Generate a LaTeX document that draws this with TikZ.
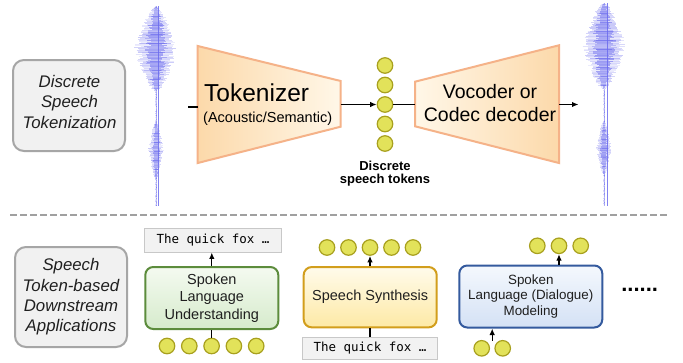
\documentclass[tikz,border=0pt]{standalone}
\usepackage{fontspec}
\setmainfont{Liberation Sans}
\setmonofont{DejaVu Sans Mono}
\usetikzlibrary{arrows.meta}

\definecolor{waveblue}{RGB}{108,108,238}
\definecolor{tapeborder}{RGB}{245,178,136}
\definecolor{tapedark}{RGB}{252,217,170}
\definecolor{tapelight}{RGB}{255,247,232}
\definecolor{panelgray}{RGB}{166,166,166}
\definecolor{panelfill}{RGB}{241,241,241}
\definecolor{tokfill}{RGB}{226,226,90}
\definecolor{tokline}{RGB}{168,160,30}
\definecolor{slugreen}{RGB}{92,140,60}
\definecolor{slutop}{RGB}{244,250,240}
\definecolor{slubot}{RGB}{214,235,204}
\definecolor{ssgold}{RGB}{210,158,28}
\definecolor{sstop}{RGB}{255,251,235}
\definecolor{ssbot}{RGB}{253,233,165}
\definecolor{slmblue}{RGB}{52,90,158}
\definecolor{slmtop}{RGB}{244,248,253}
\definecolor{slmbot}{RGB}{212,225,245}
\definecolor{textboxfill}{RGB}{242,242,242}
\definecolor{textboxline}{RGB}{200,200,200}
\definecolor{dashgray}{RGB}{160,160,160}

% speech waveform: horizontal strokes around a vertical spine
% #1 spine x, #2 top, #3 bottom, #4 blob shift, #5/#6/#7 upper blob centre,
% half-height, half-width, #8/#9 lower blob centre, half-height
\newcommand\speechwave[9]{%
  \pgfmathtruncatemacro\nlines{(#3-#2)/0.9}
  \foreach \k in {0,...,\nlines} {
    \pgfmathsetmacro\ya{#2+0.9*\k}
    \pgfmathsetmacro\wu{#7*pow(max(0.0001,1-abs(\ya-#5)/#6),0.6)}
    \pgfmathsetmacro\wl{7.5*pow(max(0.0001,1-abs(\ya-#8)/#9),0.6)}
    \pgfmathsetmacro\ww{\wu+\wl}
    \pgfmathsetmacro\xl{#1+#4-\ww*(0.65+0.35*rnd)-0.4}
    \pgfmathsetmacro\xr{#1+#4+\ww*(0.65+0.35*rnd)+0.4}
    \pgfmathsetmacro\op{0.12+0.25*rnd}
    \draw[wave, opacity=\op] (\xl,\ya) -- (\xr,\ya);
    \pgfmathsetmacro\xli{#1+#4-\ww*(0.25+0.35*rnd)}
    \pgfmathsetmacro\xri{#1+#4+\ww*(0.25+0.35*rnd)}
    \pgfmathsetmacro\opi{0.3+0.3*rnd}
    \draw[wave, opacity=\opi] (\xli,\ya) -- (\xri,\ya);
  }%
  \draw[wave, line width=0.9pt, opacity=0.85] (#1,#2) -- (#1,#3);
}

\begin{document}
\begin{tikzpicture}[x=1pt, y=-1pt,
  >={Latex[length=6.5pt,width=5.5pt]},
  wave/.style={waveblue, line width=0.7pt},
  panel/.style={draw=panelgray, line width=2pt, fill=panelfill,
    rounded corners=11pt, inner sep=0pt},
  paneltext/.style={align=center, inner sep=0pt, text=black!88,
    font=\itshape\fontsize{16.8}{20.4}\selectfont},
  token/.style={circle, draw=tokline, fill=tokfill, line width=1.2pt,
    minimum size=15.5pt, inner sep=0pt},
  taskbox/.style={rounded corners=8pt, line width=2pt, align=center,
    inner sep=0pt, text=black!88},
  sample/.style={draw=textboxline, fill=textboxfill, line width=0.8pt,
    font=\ttfamily\fontsize{12.5}{14}\selectfont, inner sep=0pt},
  link/.style={line width=1.3pt, black},
  separator/.style={dashgray, line width=2pt, dash pattern=on 6.5pt off 3.5pt}]

\fill[white] (0,0) rectangle (683,362);
\useasboundingbox (0,0) rectangle (683,362);
\pgfmathsetseed{11}

% ---------- upper row: tokenization pipeline ----------
\node[panel, minimum width=112pt, minimum height=91pt] (tokpanel) at (69,105.5) {};
\node[paneltext] (tokpaneltext) at (69.5,101.9) {Discrete\\Speech\\Tokenization};

\speechwave{158}{6}{206}{-2}{49}{42}{22}{150}{28}
\speechwave{607}{3}{206}{-3}{46}{43}{22}{148}{26}

% tokenizer (encoder) funnel
\shade[left color=tapedark, right color=tapelight, draw=tapeborder,
  line width=2pt, line join=miter]
  (197.7,46) -- (340.7,81) -- (340.7,126.7) -- (197.7,163) -- cycle;
\coordinate (tokin) at (197.7,107);
\coordinate (tokout) at (340.7,104.5);
\coordinate (wavein) at (188,107);
\node[anchor=base west, inner sep=0pt, font=\fontsize{24.5}{28}\selectfont]
  (tokname) at (204,101.7) {Tokenizer};
\node[anchor=base west, inner sep=0pt, font=\fontsize{14.5}{17}\selectfont]
  (tokkind) at (203,122.3) {(Acoustic/Semantic)};

% vocoder / codec decoder funnel
\shade[left color=tapelight, right color=tapedark, draw=tapeborder,
  line width=2pt, line join=miter]
  (415,81.7) -- (559,45.3) -- (559,163) -- (415,126.3) -- cycle;
\coordinate (decin) at (415,104.5);
\coordinate (decout) at (559,104.5);
\coordinate (waveout) at (578.5,104.5);
\node[align=center, inner sep=0pt, font=\fontsize{19.5}{23.4}\selectfont]
  (decname) at (490,103) {Vocoder or\\Codec decoder};

% discrete tokens
\foreach \i/\yy in {1/65.5, 2/85, 3/104.5, 4/124, 5/143.5}
  \node[token] (tk\i) at (385,\yy) {};
\node[align=center, inner sep=0pt, font=\bfseries\fontsize{13}{13.5}\selectfont]
  (tklabel) at (385,173.4) {Discrete\\speech tokens};

\draw[link] (wavein) -- (tokin);
\draw[link, ->] (tokout) -- (tk3.west);
\draw[link] (tk3.east) -- (decin);
\draw[link, ->] (decout) -- (waveout);

% separator
\coordinate (sepL) at (10,215);
\coordinate (sepR) at (668,215);
\draw[separator] (sepL) -- (sepR);

% ---------- lower row: downstream applications ----------
\node[panel, paneltext, minimum width=112pt, minimum height=100pt]
  (apppanel) at (71,297) {Speech\\Token-based\\Downstream\\Applications};

% spoken language understanding
\node[taskbox, draw=slugreen, top color=slutop, bottom color=slubot,
  minimum width=133pt, minimum height=62pt,
  font=\fontsize{14.5}{17.3}\selectfont]
  (slu) at (211.8,298) {Spoken\\Language\\Understanding};
\node[sample, minimum width=137pt, minimum height=23.5pt]
  (slutext) at (213,240.3) {The quick fox …};
\foreach \i/\xx in {1/167, 2/189.3, 3/211.6, 4/233.9, 5/256.2}
  \node[token] (su\i) at (\xx,346) {};
\draw[link, ->] (slu.north) -- (slu.north |- slutext.south);
\draw[link] (su3.north) -- (su3.north |- slu.south);

% speech synthesis
\node[taskbox, draw=ssgold, top color=sstop, bottom color=ssbot,
  minimum width=133pt, minimum height=60.3pt,
  font=\fontsize{14.5}{17}\selectfont]
  (tts) at (370.2,297.2) {Speech Synthesis};
\node[sample, minimum width=135.5pt, minimum height=22.5pt]
  (ttstext) at (370,348.3) {The quick fox …};
\foreach \i/\xx in {1/327, 2/348.5, 3/370, 4/391.5, 5/413}
  \node[token] (st\i) at (\xx,247.5) {};
\draw[link, ->] (st3.south |- tts.north) -- (st3.south);
\draw[link] (st3.south |- tts.south) -- (st3.south |- ttstext.north);

% spoken language (dialogue) modeling
\node[taskbox, draw=slmblue, top color=slmtop, bottom color=slmbot,
  minimum width=143pt, minimum height=62pt,
  font=\fontsize{13.4}{15.6}\selectfont]
  (slm) at (530.8,296.5) {Spoken\\Language (Dialogue)\\Modeling};
\foreach \i/\xx in {1/537.3, 2/559, 3/580.7}
  \node[token] (so\i) at (\xx,245.8) {};
\foreach \i/\xx in {1/481.7, 2/502.7}
  \node[token] (si\i) at (\xx,348.3) {};
\coordinate (slmin) at (492.2,340.5);
\draw[link, ->] (so2.south |- slm.north) -- (so2.south);
\draw[link, ->] (slmin) -- (slmin |- slm.south);

\node[anchor=base, inner sep=0pt, font=\bfseries\fontsize{22}{24}\selectfont]
  (more) at (639.7,291) {......};

\end{tikzpicture}
\end{document}
